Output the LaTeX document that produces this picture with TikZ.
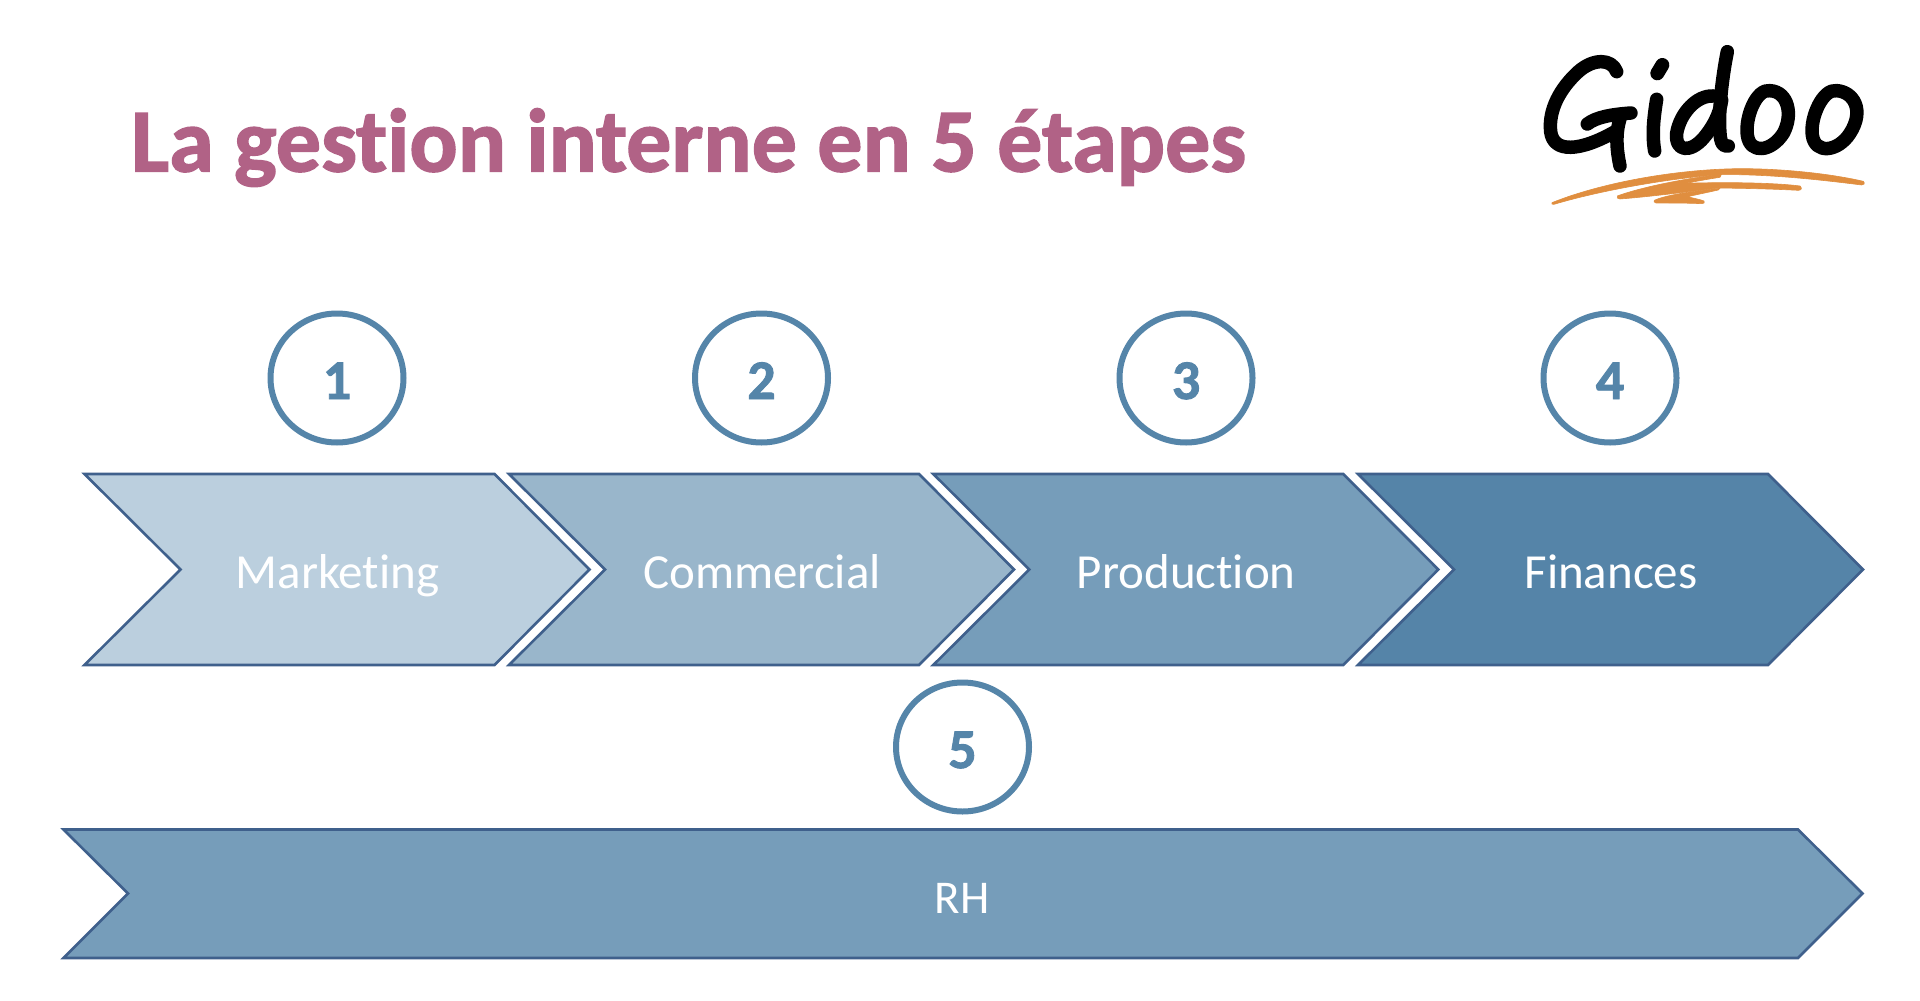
\documentclass[tikz,border=0pt]{standalone}
\usepackage{fontspec}
\setmainfont{Carlito}[Ligatures=NoCommon]
\newfontfamily\heavy{Carlito}[Ligatures=NoCommon,BoldFont={Carlito Bold},BoldFeatures={FakeBold=1.6}]
\definecolor{c1}{HTML}{BBCFDE}
\definecolor{c2}{HTML}{99B6CB}
\definecolor{c3}{HTML}{769DBA}
\definecolor{c4}{HTML}{5584A8}
\definecolor{edge}{HTML}{3F608C}
\definecolor{ring}{HTML}{5585A9}
\definecolor{ttl}{HTML}{B16286}
\definecolor{swoosh}{HTML}{E08E3F}
\tikzset{
 chev/.style={draw=edge,line width=2.6pt,line join=miter,miter limit=10},
 lab/.style={text=white,font=\fontsize{49}{52}\selectfont,inner sep=0pt,anchor=base},
 num/.style={draw=ring,line width=6pt,fill=white,ellipse,minimum width=133pt,minimum height=129pt,inner sep=0pt},
 numtxt/.style={text=ring,inner sep=0pt,anchor=base,font=\fontsize{56}{60}\heavy\bfseries},
 logo/.style={draw=black,line width=13.5pt,line cap=round,line join=round},
 brush/.style={fill=swoosh,draw=swoosh,line width=0.6pt,line join=round}
}
\usetikzlibrary{shapes.geometric}
\newcommand{\chevron}[3]{% left x, fill, name
 \path[chev,fill=#2] (#1,474) -- (#1+410,474) -- (#1+505,569.5) -- (#1+410,665) -- (#1,665) -- (#1+96,569.5) -- cycle;
 \node[lab] (#3) at (#1+253,588) {#3};
}
\newcommand{\numbered}[4]{% name, x, y, digit
 \node[num] (#1) at (#2,#3) {};
 \node[numtxt] (#1t) at (#2,#3+21) {#4};
}
\begin{document}
\begin{tikzpicture}[x=1pt,y=-1pt]
\useasboundingbox[fill=white] (0,0) rectangle (1920,1001);
\node[anchor=base west,text=ttl,inner sep=0pt,font=\fontsize{90}{94}\heavy\bfseries] (title) at (131,171.5) {La gestion interne en 5 étapes};
\chevron{84.5}{c1}{Marketing}
\chevron{509}{c2}{Commercial}
\chevron{933.3}{c3}{Production}
\chevron{1358}{c4}{Finances}
\path[chev,fill=c3] (63.5,829.5) -- (1798,829.5) -- (1862.5,893.5) -- (1798,958) -- (63.5,958) -- (128,893.5) -- cycle;
\node[lab,font=\fontsize{47}{50}\selectfont] (RH) at (962,913) {RH};
\numbered{n1}{337}{378}{1}
\numbered{n2}{761.5}{378}{2}
\numbered{n3}{1186}{378}{3}
\numbered{n4}{1610}{378}{4}
\numbered{n5}{962.5}{747}{5}
% logo
\begin{scope}[shift={(1500,20)},x=0.3333pt,y=-0.3333pt]
\draw[logo] (350,155) .. controls (335,115) and (280,115) .. (235,155) .. controls (180,205) and (145,270) .. (152,335) .. controls (160,400) and (240,395) .. (345,335);
\draw[logo] (262,312) .. controls (290,290) and (340,283) .. (393,279);
\draw[logo] (362,290) .. controls (345,340) and (350,390) .. (360,438);
\draw[logo,line width=14pt] (487,135) -- (472,160);
\draw[logo] (470,238) .. controls (462,290) and (455,340) .. (464,393);
\draw[logo] (640,228) .. controls (590,225) and (540,280) .. (530,340) .. controls (525,395) and (570,400) .. (610,355) .. controls (640,320) and (660,280) .. (665,240);
\draw[logo] (682,95) .. controls (665,180) and (655,280) .. (660,340) .. controls (662,370) and (670,382) .. (685,378);
\draw[logo] (810,212) .. controls (770,205) and (735,290) .. (742,345) .. controls (750,405) and (815,395) .. (850,340) .. controls (880,285) and (865,215) .. (810,212);
\draw[logo] (1010,212) .. controls (970,205) and (930,290) .. (937,345) .. controls (945,405) and (1015,395) .. (1050,340) .. controls (1095,270) and (1060,215) .. (1010,212);
\path[brush] (156,548) .. controls (300,490) and (520,448) .. (720,446) .. controls (860,446) and (1000,463) .. (1090,484) .. controls (1096,490) and (1092,496) .. (1085,495) .. controls (950,478) and (800,462) .. (660,464) .. controls (500,476) and (300,512) .. (162,553) .. controls (156,555) and (154,551) .. (156,548) -- cycle;
\path[brush] (352,528) .. controls (420,503) and (540,478) .. (665,462) -- (660,472) .. controls (620,478) and (590,484) .. (555,490) .. controls (680,486) and (820,488) .. (900,498) .. controls (907,504) and (905,511) .. (895,511) .. controls (800,506) and (720,505) .. (655,504) .. controls (560,516) and (450,530) .. (360,537) .. controls (352,537) and (349,532) .. (352,528) -- cycle;
\path[brush] (463,541) .. controls (490,528) and (560,515) .. (660,505) -- (655,510) .. controls (620,518) and (590,524) .. (563,530) .. controls (580,535) and (600,538) .. (612,543) .. controls (616,548) and (612,551) .. (605,551) .. controls (560,549) and (510,549) .. (468,549) .. controls (462,548) and (461,544) .. (463,541) -- cycle;
\end{scope}
\end{tikzpicture}
\end{document}
